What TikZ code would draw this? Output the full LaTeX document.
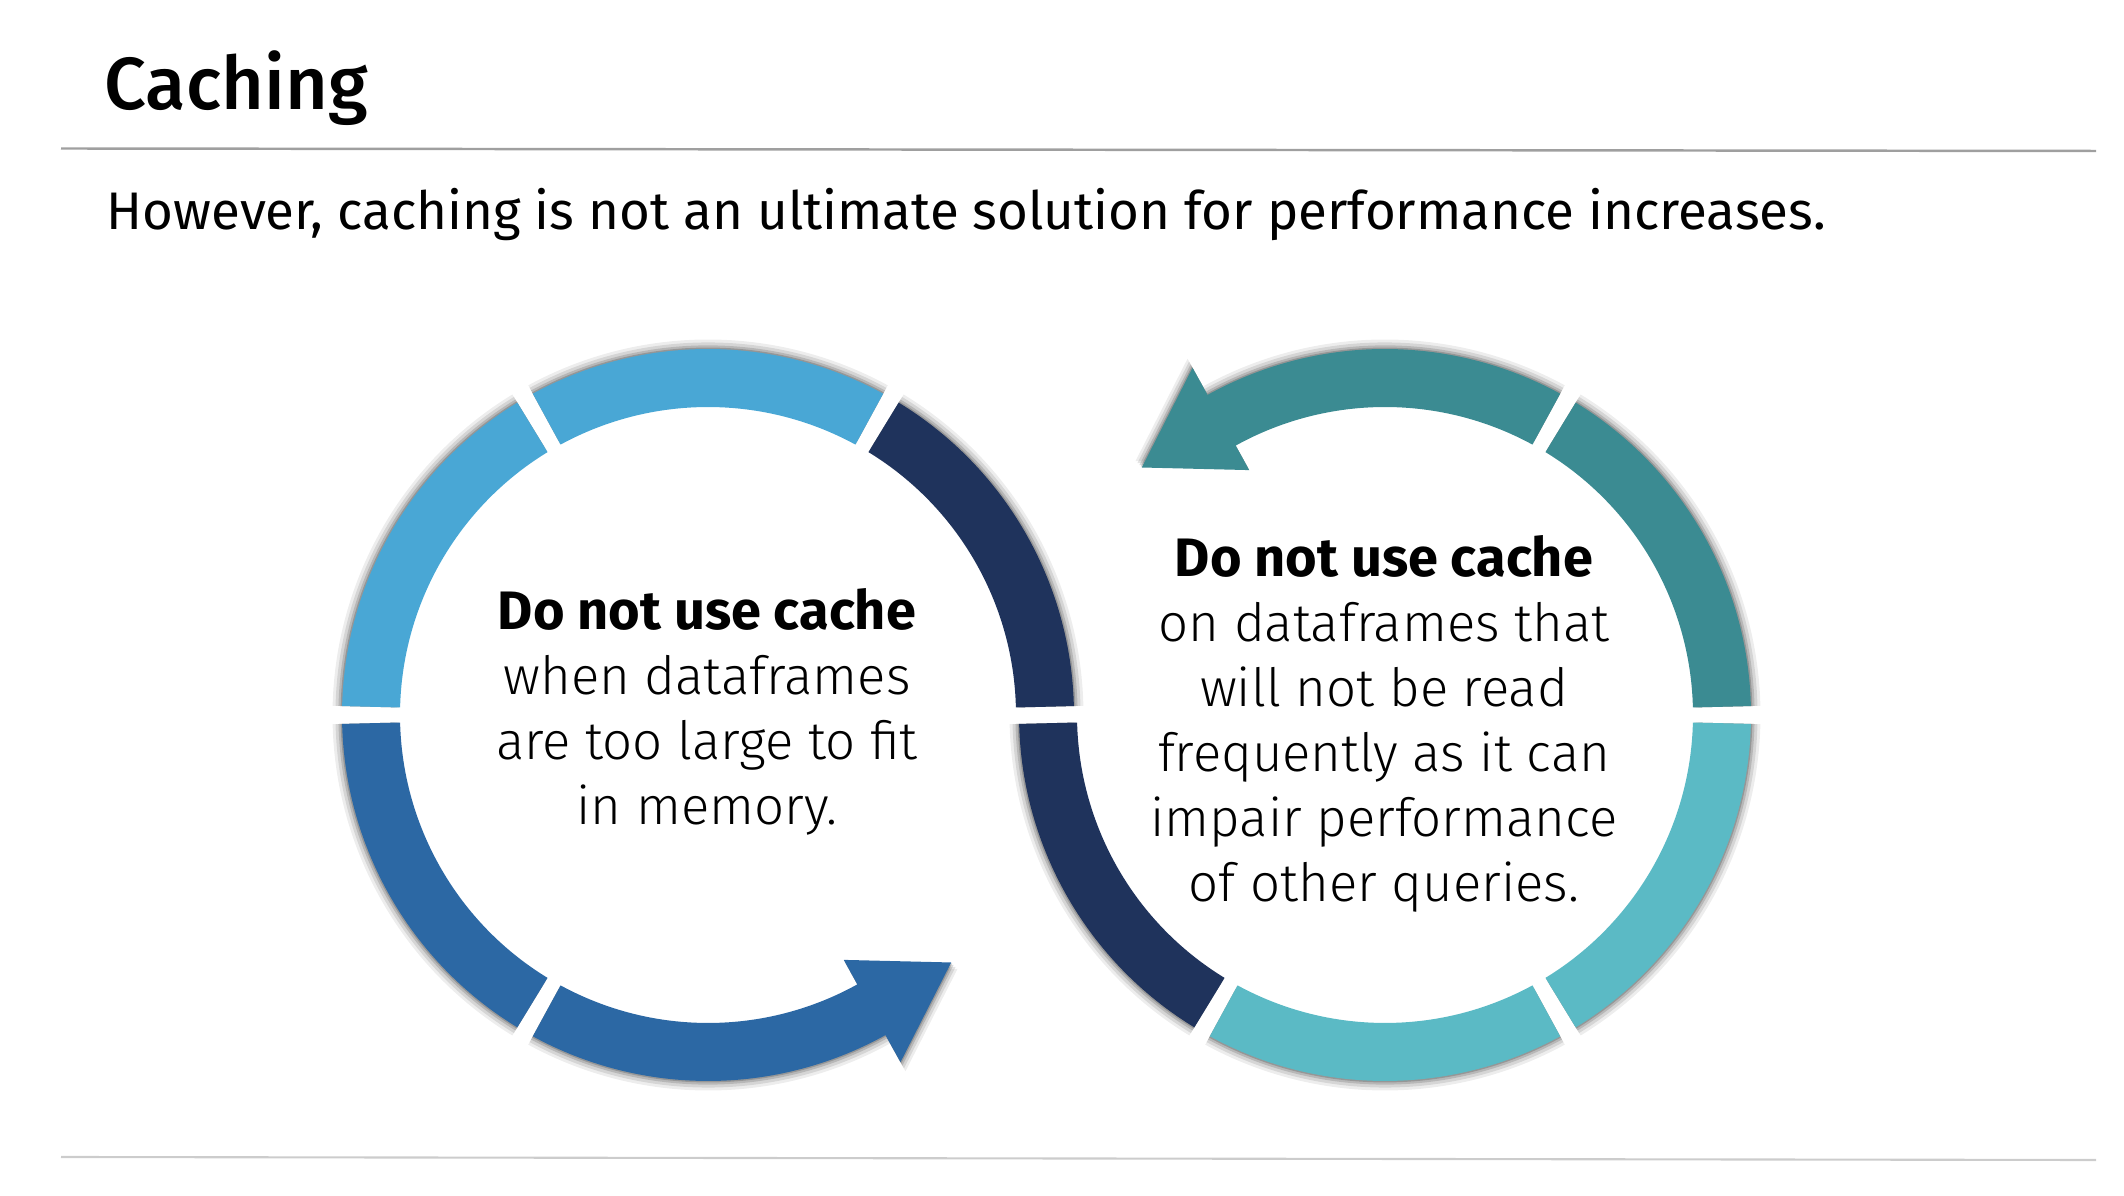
\documentclass[tikz,border=0pt]{standalone}
\usepackage{fontspec}
\setmainfont{Fira Sans}[UprightFont=* Light, BoldFont=* Bold]
\newfontfamily\titlefont{Fira Sans Medium}
\newfontfamily\plainfont{Fira Sans}
\usepackage{tikz}
\usetikzlibrary{positioning}

\definecolor{skyblue}{HTML}{49A7D5}
\definecolor{midblue}{HTML}{2C68A4}
\definecolor{navyblue}{HTML}{1F335C}
\definecolor{tealgreen}{HTML}{3B8B92}
\definecolor{lightteal}{HTML}{5BBAC5}

\def\ri{3.08}
\def\ro{3.66}
\def\gp{1.4}
% one piece of a ring, from angle #1 to angle #2
\newcommand{\ringpart}[2]{({#1}:\ri) arc[start angle={#1},end angle={#2},radius=\ri]
    -- ({#2}:\ro) arc[start angle={#2},end angle={#1},radius=\ro] -- cycle}
% arrow head whose back edge sits at angle #1
\newcommand{\ringhead}[1]{({#1}:2.80) -- ({#1+15.5}:3.47) -- ({#1}:3.97) -- cycle}
% bold first line of the texts in the rings
\newcommand{\boldhead}[1]{{\fontsize{15.4}{18.5}\selectfont\bfseries #1}}

\newcommand{\leftparts}{\ringpart{\gp}{60-\gp} \ringpart{60+\gp}{120-\gp}
    \ringpart{120+\gp}{180-\gp} \ringpart{180+\gp}{240-\gp}
    \ringpart{240+\gp}{299} \ringhead{299}}
\newcommand{\rightparts}{\ringpart{\gp}{60-\gp} \ringpart{60+\gp}{119} \ringhead{119}
    \ringpart{180+\gp}{240-\gp} \ringpart{240+\gp}{300-\gp} \ringpart{300+\gp}{360-\gp}}

\tikzset{
    shade layer/.style={fill=black, opacity=#1},
    circletext/.style={align=center, anchor=base, inner sep=0pt,
        font=\fontsize{15}{18.5}\selectfont},
}

\begin{document}
\begin{tikzpicture}
    \useasboundingbox (0,0) rectangle (21.24,-11.96);
    \coordinate (lc) at (7.08,-7.15);
    \coordinate (rc) at (13.85,-7.15);

    % soft shadow round both rings
    \foreach \f/\op in {1.026/.07, 1.018/.10, 1.010/.14, 1.004/.18} {
        \fill[shade layer=\op, shift={(lc)}, scale=\f] \leftparts;
        \fill[shade layer=\op, shift={(rc)}, scale=\f] \rightparts;
    }

    % left ring
    \begin{scope}[shift={(lc)}]
        \fill[skyblue] \ringpart{60+\gp}{120-\gp} \ringpart{120+\gp}{180-\gp};
        \fill[midblue] \ringpart{180+\gp}{240-\gp} \ringpart{240+\gp}{299} \ringhead{299};
        \fill[navyblue] \ringpart{\gp}{60-\gp};
    \end{scope}

    % right ring
    \begin{scope}[shift={(rc)}]
        \fill[tealgreen] \ringpart{\gp}{60-\gp} \ringpart{60+\gp}{119} \ringhead{119};
        \fill[lightteal] \ringpart{240+\gp}{300-\gp} \ringpart{300+\gp}{360-\gp};
        \fill[navyblue] \ringpart{180+\gp}{240-\gp};
    \end{scope}

    \node[anchor=base west, inner sep=0pt, font=\titlefont\fontsize{21}{24}\selectfont]
        (title) at (1.04,-1.10) {Caching};
    \draw[gray!75, line width=0.7pt] (0.61,-1.485) -- (20.96,-1.51);
    \node[anchor=base west, inner sep=0pt, font=\plainfont\fontsize{15.05}{18}\selectfont]
        (subtitle) at (1.06,-2.30) {However, caching is not an ultimate solution for performance increases.};

    \node[circletext] (lefttext) at (7.07,-8.25)
        {\boldhead{Do not use cache}\\when dataframes\\are too large to fit\\in memory.};
    \node[circletext] (righttext) at (13.84,-9.02)
        {\boldhead{Do not use cache}\\on dataframes that\\will not be read\\frequently as it can\\impair performance\\of other queries.};

    \draw[gray!40, line width=0.6pt] (0.61,-11.57) -- (20.96,-11.60);
\end{tikzpicture}
\end{document}
